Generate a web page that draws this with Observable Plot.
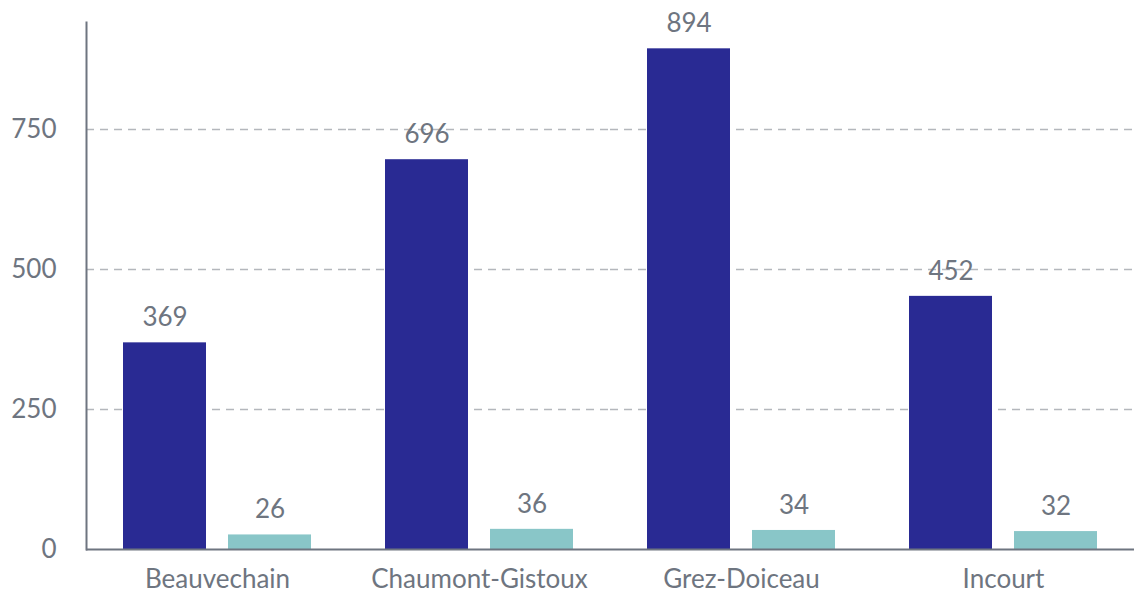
<!DOCTYPE html>
<html><head><meta charset="utf-8">
<script src="https://cdn.jsdelivr.net/npm/d3@7"></script>
<script src="https://cdn.jsdelivr.net/npm/@observablehq/plot@0.6"></script>
<style>body{margin:0;background:#fff}</style></head>
<body><div id="chart"></div>
<script>
const cities = ["Beauvechain", "Chaumont-Gistoux", "Grez-Doiceau", "Incourt"];
const seriesNames = ["Série 1", "Série 2"];
const seriesA = [369, 696, 894, 452];
const seriesB = [26, 36, 34, 32];
const yTicks = [0, 250, 500, 750];
const gridTicks = [250, 500, 750];

const data = cities.flatMap((c, i) => [
  {city: c, series: seriesNames[0], value: seriesA[i]},
  {city: c, series: seriesNames[1], value: seriesB[i]}
]);

const textColor = "#6e7580";
const axisColor = "#6e7580";

const chart = Plot.plot({
  width: 1134, height: 592,
  marginLeft: 85, marginRight: 0, marginTop: 22, marginBottom: 43,
  style: {fontFamily: "Lato, sans-serif", fontSize: "26px", color: textColor, background: "#fff"},
  fx: {domain: cities, padding: 0, label: null, tickSize: 0, tickPadding: 20},
  x: {domain: seriesNames, paddingInner: 0.2075, paddingOuter: 0.34, axis: null},
  y: {domain: [0, 941], ticks: yTicks, label: null, tickSize: 0, tickPadding: 30},
  color: {domain: seriesNames, range: ["#292a93", "#89c6c8"]},
  marks: [
    Plot.ruleY(gridTicks, {stroke: "#b4b7bc", strokeDasharray: "8,6", strokeWidth: 1.5, strokeOpacity: 1}),
    Plot.barY(data, {fx: "city", x: "series", y: "value", fill: "series"}),
    Plot.text(data, {fx: "city", x: "series", y: "value", text: d => String(d.value), dy: -25, fill: textColor, fontSize: 26}),
    Plot.ruleY([0], {stroke: axisColor, strokeWidth: 2}),
    Plot.frame({anchor: "left", facetAnchor: "left", stroke: axisColor, strokeWidth: 2})
  ]
});
document.getElementById("chart").appendChild(chart);
</script>
</body></html>
